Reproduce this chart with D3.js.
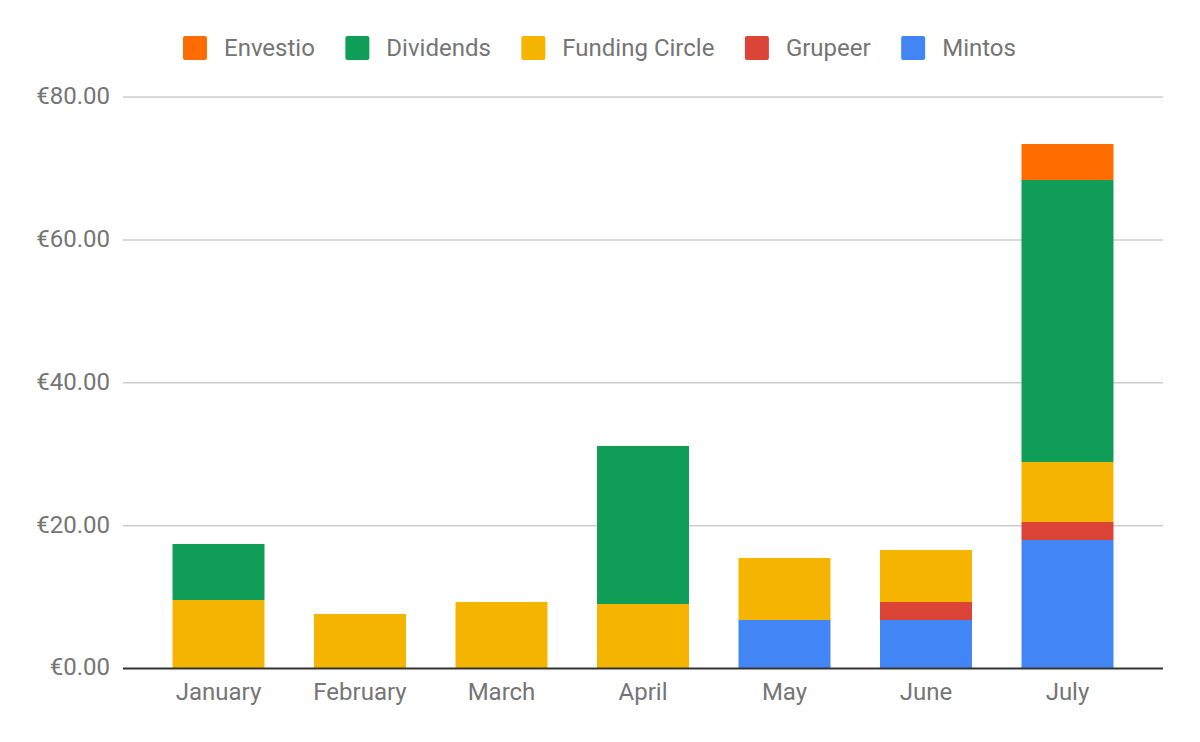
<!DOCTYPE html>
<html>
<head>
<meta charset="utf-8">
<script src="https://cdn.jsdelivr.net/npm/d3@7"></script>
<style>
  body { margin: 0; background: #fff; }
  text { font-family: Roboto, "Noto Sans", sans-serif; }
</style>
</head>
<body>
<svg id="chart"></svg>
<script>
const months = ["January", "February", "March", "April", "May", "June", "July"];
// stacked bottom to top
const series = ["Mintos", "Grupeer", "Funding Circle", "Dividends", "Envestio"];
const mintos        = [0, 0, 0, 0, 6.79, 6.79, 17.99];
const grupeer       = [0, 0, 0, 0, 0, 2.52, 2.52];
const fundingCircle = [9.59, 7.63, 9.31, 9.03, 8.68, 7.28, 8.40];
const dividends     = [7.84, 0, 0, 22.12, 0, 0, 39.47];
const envestio      = [0, 0, 0, 0, 0, 0, 5.04];
const yTicks = [0, 20, 40, 60, 80];
const colors = {
  "Envestio": "#ff6d00",
  "Dividends": "#0f9d58",
  "Funding Circle": "#f4b400",
  "Grupeer": "#db4437",
  "Mintos": "#4285f4"
};

const table = months.map((m, i) => ({
  month: m,
  "Mintos": mintos[i],
  "Grupeer": grupeer[i],
  "Funding Circle": fundingCircle[i],
  "Dividends": dividends[i],
  "Envestio": envestio[i]
}));

const width = 1200, height = 742;
const margin = { top: 97, right: 37, bottom: 73.5, left: 123 };
const fontSize = 24;

const svg = d3.select("#chart")
  .attr("width", width)
  .attr("height", height);

const x = d3.scaleBand()
  .domain(months)
  .range([margin.left, width - margin.right])
  .paddingInner(0.35)
  .paddingOuter(0.35);

const y = d3.scaleLinear()
  .domain([0, 80])
  .range([height - margin.bottom, margin.top]);

// gridlines
svg.append("g")
  .selectAll("line")
  .data(yTicks.filter(d => d > 0))
  .enter()
  .append("line")
  .attr("x1", margin.left)
  .attr("x2", width - margin.right)
  .attr("y1", d => y(d))
  .attr("y2", d => y(d))
  .attr("stroke", "#cccccc")
  .attr("stroke-width", 1.5);

// y labels
svg.append("g")
  .selectAll("text")
  .data(yTicks)
  .enter()
  .append("text")
  .attr("x", 110)
  .attr("y", d => y(d))
  .attr("dy", "0.29em")
  .attr("text-anchor", "end")
  .attr("fill", "#757575")
  .attr("font-size", fontSize)
  .text(d => "€" + d.toFixed(2));

// stacked bars
const stack = d3.stack().keys(series)(table);

svg.append("g")
  .selectAll("g")
  .data(stack)
  .enter()
  .append("g")
  .attr("fill", d => colors[d.key])
  .selectAll("rect")
  .data(d => d.filter(p => p[1] - p[0] > 0))
  .enter()
  .append("rect")
  .attr("x", d => x(d.data.month))
  .attr("width", x.bandwidth())
  .attr("y", d => y(d[1]))
  .attr("height", d => y(d[0]) - y(d[1]));

// baseline
svg.append("line")
  .attr("x1", margin.left)
  .attr("x2", width - margin.right)
  .attr("y1", y(0))
  .attr("y2", y(0))
  .attr("stroke", "#333333")
  .attr("stroke-width", 2);

// x labels
svg.append("g")
  .selectAll("text")
  .data(months)
  .enter()
  .append("text")
  .attr("x", d => x(d) + x.bandwidth() / 2)
  .attr("y", 700)
  .attr("text-anchor", "middle")
  .attr("fill", "#757575")
  .attr("font-size", fontSize)
  .text(d => d);

// legend
const legendKeys = series.slice().reverse();
const legend = svg.append("g");
let lx = 183;
legendKeys.forEach(k => {
  const g = legend.append("g").attr("transform", `translate(${lx},36)`);
  g.append("rect")
    .attr("width", 24)
    .attr("height", 24)
    .attr("rx", 2)
    .attr("fill", colors[k]);
  const t = g.append("text")
    .attr("x", 41)
    .attr("y", 20)
    .attr("fill", "#757575")
    .attr("font-size", fontSize)
    .text(k);
  lx += 41 + t.node().getComputedTextLength() + 30.5;
});
</script>
</body>
</html>
